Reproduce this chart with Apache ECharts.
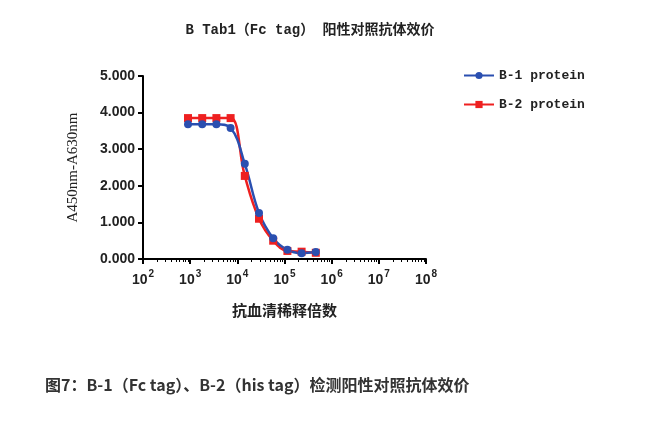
<!DOCTYPE html><html><head><meta charset="utf-8"><script src="https://cdn.jsdelivr.net/npm/echarts@6/dist/echarts.min.js"></script></head><body style="margin:0"><div id="c" style="width:670px;height:422px"></div><script>
const dilutions=[900,1800,3600,7200,14400,28800,57600,115200,230400,460800];
const b1=[3.68,3.68,3.68,3.58,2.6,1.26,0.57,0.25,0.16,0.19];
const b2=[3.85,3.85,3.85,3.85,2.27,1.1,0.5,0.22,0.2,0.17];
const ch=echarts.init(document.getElementById('c'));
const mk=(a)=>dilutions.map((d,i)=>[d,a[i]]);
ch.setOption({
title:[{text:'B Tab1（Fc tag） 阳性对照抗体效价',left:305,top:18,textAlign:'center',textStyle:{fontSize:14,fontWeight:'bold',fontFamily:'Liberation Mono, Noto Sans CJK SC',color:'#222'}},
{text:'图7：B-1（Fc tag）、B-2（his tag）检测阳性对照抗体效价',left:40,top:372,textStyle:{fontSize:16,fontWeight:'bold',fontFamily:'Noto Sans CJK SC',color:'#333'}}],
legend:{orient:'vertical',left:458,top:64,itemGap:16,itemWidth:30,itemHeight:9,textStyle:{fontSize:13,fontWeight:'bold',color:'#222',fontFamily:'Liberation Mono'},data:['B-1 protein','B-2 protein']},
grid:{left:143,right:244,top:76,bottom:163},
xAxis:{type:'log',min:100,max:1e8,logBase:10,name:'抗血清稀释倍数',nameLocation:'middle',nameGap:44,nameTextStyle:{fontSize:15,fontWeight:'bold',color:'#222',fontFamily:'Noto Sans CJK SC'},
axisLine:{lineStyle:{color:'#000',width:2}},axisTick:{lineStyle:{color:'#000',width:2}},minorTick:{show:true,splitNumber:9,lineStyle:{color:'#000'}},splitLine:{show:false},
axisLabel:{margin:10,formatter:v=>'{b|10}{s|'+Math.round(Math.log10(v))+'}',rich:{b:{fontSize:14,fontWeight:'bold',color:'#222',verticalAlign:'bottom'},s:{fontSize:10,fontWeight:'bold',color:'#222',verticalAlign:'top',padding:[0,0,8,1]}}}},
yAxis:{type:'value',min:0,max:5,interval:1,name:'A450nm-A630nm',nameLocation:'middle',nameGap:62,nameTextStyle:{fontSize:15,fontFamily:'Liberation Serif',color:'#222'},
axisLine:{show:true,lineStyle:{color:'#000',width:2}},axisTick:{show:true,lineStyle:{color:'#000',width:2}},splitLine:{show:false},
axisLabel:{fontSize:14,fontWeight:'bold',color:'#222',formatter:v=>v.toFixed(3)}},
series:[
{name:'B-2 protein',type:'line',smooth:0.4,data:mk(b2),symbol:'rect',symbolSize:8,itemStyle:{color:'#ee2020'},lineStyle:{width:2.5,color:'#ee2020'}},
{name:'B-1 protein',type:'line',smooth:0.4,data:mk(b1),symbol:'circle',symbolSize:8,itemStyle:{color:'#2a4fb0'},lineStyle:{width:2.5,color:'#2a4fb0'}}]
});
</script></body></html>
